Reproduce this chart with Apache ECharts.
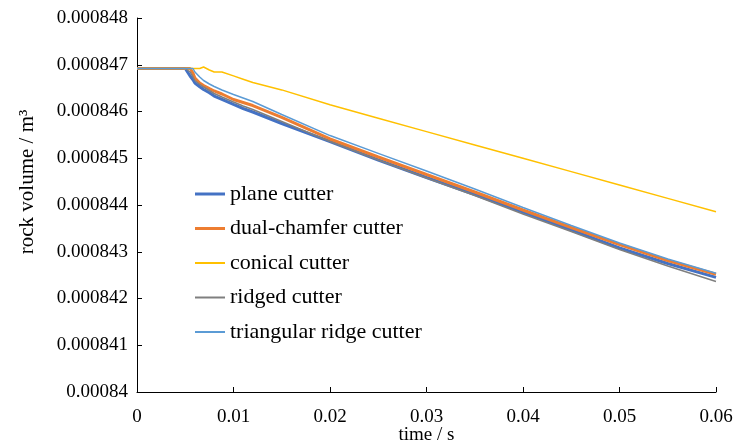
<!DOCTYPE html>
<html>
<head>
<meta charset="utf-8">
<script src="https://cdn.jsdelivr.net/npm/echarts@6/dist/echarts.min.js"></script>
<style>
html,body{margin:0;padding:0;background:#fff;}
#chart{width:733px;height:445px;}
</style>
</head>
<body>
<div id="chart"></div>
<script>
// time (s)
var timeS = [0, 0.005, 0.0052, 0.0055, 0.0058, 0.006, 0.0065, 0.0069, 0.0075, 0.008, 0.0088, 0.009, 0.01, 0.011, 0.012, 0.015, 0.02, 0.025, 0.03, 0.035, 0.04, 0.045, 0.05, 0.055, 0.06];
// rock volume (m^3)
var planeCutter = [0.00084692, 0.00084692, 0.00084692, 0.00084676, 0.00084668, 0.00084661, 0.00084653, 0.00084647, 0.00084640, 0.00084633, 0.00084626, 0.000846246, 0.00084615, 0.000846064, 0.000845989, 0.000845743, 0.000845358, 0.000844963, 0.000844588, 0.000844225, 0.00084385, 0.000843465, 0.00084308, 0.000842749, 0.000842453];
var dualChamferCutter = [0.00084692, 0.00084692, 0.00084692, 0.00084692, 0.000846824, 0.000846717, 0.00084661, 0.000846556, 0.000846492, 0.000846439, 0.000846374, 0.000846364, 0.000846257, 0.000846193, 0.000846128, 0.000845872, 0.000845412, 0.000845027, 0.000844652, 0.000844278, 0.000843893, 0.000843519, 0.000843155, 0.000842813, 0.000842518];
var conicalCutter = [0.00084692, 0.00084692, 0.00084692, 0.00084692, 0.00084692, 0.00084692, 0.00084692, 0.000846952, 0.000846888, 0.000846845, 0.000846845, 0.000846832, 0.000846762, 0.000846691, 0.00084662, 0.000846462, 0.000846145, 0.000845857, 0.00084557, 0.000845285, 0.000845, 0.000844714, 0.000844428, 0.000844142, 0.000843857];
var ridgedCutter = [0.00084692, 0.00084692, 0.00084692, 0.000846845, 0.000846738, 0.000846663, 0.000846578, 0.000846524, 0.000846449, 0.000846385, 0.00084631, 0.000846299, 0.000846203, 0.000846118, 0.000846043, 0.000845786, 0.000845358, 0.000844963, 0.000844578, 0.000844203, 0.000843807, 0.000843433, 0.000843048, 0.000842695, 0.000842364];
var triangularRidgeCutter = [0.00084692, 0.00084692, 0.00084692, 0.00084692, 0.00084692, 0.000846845, 0.000846738, 0.000846663, 0.000846588, 0.000846535, 0.00084646, 0.000846439, 0.000846364, 0.000846289, 0.000846215, 0.000845935, 0.000845485, 0.000845105, 0.000844727, 0.000844342, 0.000843947, 0.000843561, 0.000843187, 0.000842845, 0.000842539];

var seriesNames = ['plane cutter', 'dual-chamfer cutter', 'conical cutter', 'ridged cutter', 'triangular ridge cutter'];
var seriesValues = [planeCutter, dualChamferCutter, conicalCutter, ridgedCutter, triangularRidgeCutter];
var seriesColors = ['#4472C4', '#ED7D31', '#FFC000', '#7F7F7F', '#5B9BD5'];
var seriesWidths = [3, 3, 1.5, 1.5, 1.5];

var xTicks = {min: 0, max: 0.06, interval: 0.01};
var yTicks = {min: 0.00084, max: 0.000848, interval: 0.000001};

function pairs(vals) {
  return vals.map(function (v, i) { return [timeS[i], v]; });
}

var FONT = '"Liberation Serif", "Times New Roman", serif';
var chart = echarts.init(document.getElementById('chart'), null, {renderer: 'canvas'});
chart.setOption({
  animation: false,
  backgroundColor: '#ffffff',
  grid: {left: 137, right: 17, top: 18, bottom: 53, containLabel: false, outerBoundsMode: 'none'},
  legend: {
    orient: 'vertical',
    left: 195,
    top: 183,
    padding: 0,
    itemWidth: 30,
    itemHeight: 14,
    itemGap: 12.5,
    itemTextGap: 2,
    data: seriesNames.map(function (n, i) {
      var h = seriesWidths[i] > 2 ? 3 : 2;
      return {name: n, icon: 'path://M0,0L30,0L30,' + h + 'L0,' + h + 'Z'};
    }),
    textStyle: {fontFamily: FONT, fontSize: 22, color: '#000', lineHeight: 22}
  },
  xAxis: {
    type: 'value',
    min: xTicks.min, max: xTicks.max, interval: xTicks.interval,
    name: 'time / s',
    nameLocation: 'middle',
    nameGap: 34,
    nameMoveOverlap: false,
    nameTextStyle: {fontFamily: FONT, fontSize: 19, color: '#000'},
    axisLine: {lineStyle: {color: '#000', width: 1}},
    axisTick: {inside: true, length: 5, lineStyle: {color: '#000'}},
    axisLabel: {fontFamily: FONT, fontSize: 19, color: '#000', margin: 16,
      formatter: function (v) { return String(parseFloat(v.toFixed(4))); }},
    splitLine: {show: false}
  },
  yAxis: {
    type: 'value',
    min: yTicks.min, max: yTicks.max, interval: yTicks.interval,
    axisLine: {show: true, lineStyle: {color: '#000', width: 1}},
    axisTick: {show: true, inside: true, length: 5, lineStyle: {color: '#000'}},
    axisLabel: {fontFamily: FONT, fontSize: 19, color: '#000', margin: 9,
      formatter: function (v) { return String(parseFloat(v.toFixed(6))); }},
    splitLine: {show: false}
  },
  graphic: [{
    type: 'text',
    x: 27,
    y: 182,
    rotation: Math.PI / 2,
    style: {text: 'rock volume / m³', font: '21px ' + FONT, fill: '#000', textAlign: 'center', textVerticalAlign: 'middle'}
  }],
  series: seriesNames.map(function (n, i) {
    return {
      name: n,
      type: 'line',
      data: pairs(seriesValues[i]),
      showSymbol: false,
      symbol: 'none',
      smooth: false,
      z: 2 + i,
      lineStyle: {color: seriesColors[i], width: seriesWidths[i]},
      itemStyle: {color: seriesColors[i]}
    };
  })
});
</script>
</body>
</html>
